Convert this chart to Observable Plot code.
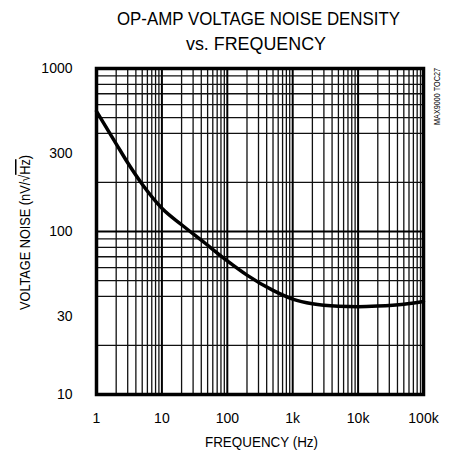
<!DOCTYPE html>
<html><head><meta charset="utf-8">
<script src="https://cdn.jsdelivr.net/npm/d3@7"></script>
<script src="https://cdn.jsdelivr.net/npm/@observablehq/plot@0.6"></script>
<style>
body{margin:0;background:#fff;}
#chart{position:relative;width:449px;height:456px;}
</style>
</head><body><div id="chart"></div>
<script>
const freq  = [1, 2, 3, 5, 10, 20, 40, 100, 200, 500, 1000, 2000, 5000, 10000, 20000, 50000, 100000];
const noise = [546, 345, 264, 195, 139, 110, 88.5, 66, 54, 43.5, 38.5, 36, 34.8, 34.6, 34.9, 35.8, 37.2];
const xTicks = [1, 10, 100, 1000, 10000, 100000];
const xTickLabels = ["1", "10", "100", "1k", "10k", "100k"];
const yTicks = [10, 30, 100, 300, 1000];
const yTickLabels = ["10", "30", "100", "300", "1000"];
const titleLines = ["OP-AMP VOLTAGE NOISE DENSITY", "vs. FREQUENCY"];
const xLabel = "FREQUENCY (Hz)";
const yLabelParts = ["VOLTAGE NOISE (nV/\u221A", "Hz", ")"];
const partNumber = "MAX9000 TOC27";

const data = freq.map((f, i) => ({f, v: noise[i]}));
const mults = [1,2,3,4,5,6,7,8,9];
const xGrid = [], yGrid = [];
for (let d = 0; d < 5; d++) for (const m of mults) xGrid.push(m * 10 ** d);
xGrid.push(100000);
for (let d = 1; d < 3; d++) for (const m of mults) yGrid.push(m * 10 ** d);
yGrid.push(1000);
const xMinor = xGrid.filter(v => !xTicks.includes(v));
const yMinor = yGrid.filter(v => !yTicks.includes(v));
const yMajorGrid = [10, 100, 1000];

const W = 449, H = 456;
const mL = 96, mR = 26, mT = 68, mB = 62;
const font = "'Liberation Sans', Arial, sans-serif";

const plot = Plot.plot({
  width: W, height: H,
  marginLeft: mL, marginRight: mR, marginTop: mT, marginBottom: mB,
  style: {fontFamily: font, fontSize: "14px", color: "#000", background: "#fff"},
  x: {type: "log", domain: [1, 100000]},
  y: {type: "log", domain: [10, 1000]},
  marks: [
    Plot.ruleX(xMinor, {stroke: "#111", strokeWidth: 1.3}),
    Plot.ruleY(yMinor, {stroke: "#111", strokeWidth: 1.3}),
    Plot.ruleX(xTicks, {stroke: "#000", strokeWidth: 2}),
    Plot.ruleY(yMajorGrid, {stroke: "#000", strokeWidth: 2}),
    Plot.line(data, {x: "f", y: "v", stroke: "#000", strokeWidth: 3.5, curve: "monotone-x"}),
    Plot.frame({stroke: "#000", strokeWidth: 3.5}),
    Plot.axisX({ticks: xTicks, tickFormat: (d) => xTickLabels[xTicks.indexOf(d)], tickSize: 0, tickPadding: 19, label: null, fontSize: 14}),
    Plot.axisY({ticks: yTicks, tickFormat: (d) => yTickLabels[yTicks.indexOf(d)], tickSize: 0, tickPadding: 24, label: null, fontSize: 14})
  ]
});
document.getElementById("chart").appendChild(plot);

const svg = d3.select(plot);
svg.append("text").attr("x", 258.5).attr("y", 25).attr("text-anchor", "middle")
  .attr("font-family", font).attr("font-size", 18).attr("fill", "#000")
  .attr("textLength", 283).attr("lengthAdjust", "spacingAndGlyphs").text(titleLines[0]);
svg.append("text").attr("x", 256).attr("y", 50).attr("text-anchor", "middle")
  .attr("font-family", font).attr("font-size", 18).attr("fill", "#000")
  .attr("textLength", 140).attr("lengthAdjust", "spacingAndGlyphs").text(titleLines[1]);
svg.append("text").attr("x", 261.5).attr("y", 447).attr("text-anchor", "middle")
  .attr("font-family", font).attr("font-size", 15).attr("fill", "#000")
  .attr("textLength", 113).attr("lengthAdjust", "spacingAndGlyphs").text(xLabel);
const yl = svg.append("text").attr("transform", `translate(30,232.5) rotate(-90)`).attr("text-anchor", "middle")
  .attr("font-family", font).attr("font-size", 15).attr("fill", "#000")
  .attr("textLength", 155).attr("lengthAdjust", "spacingAndGlyphs");
yl.append("tspan").text(yLabelParts[0]);
yl.append("tspan").style("text-decoration", "overline").text(yLabelParts[1]);
yl.append("tspan").text(yLabelParts[2]);
svg.append("text").attr("transform", `translate(440,68) rotate(-90)`).attr("text-anchor", "end")
  .attr("font-family", font).attr("font-size", 9).attr("fill", "#000")
  .attr("textLength", 57).attr("lengthAdjust", "spacingAndGlyphs").text(partNumber);
</script>
</body></html>
